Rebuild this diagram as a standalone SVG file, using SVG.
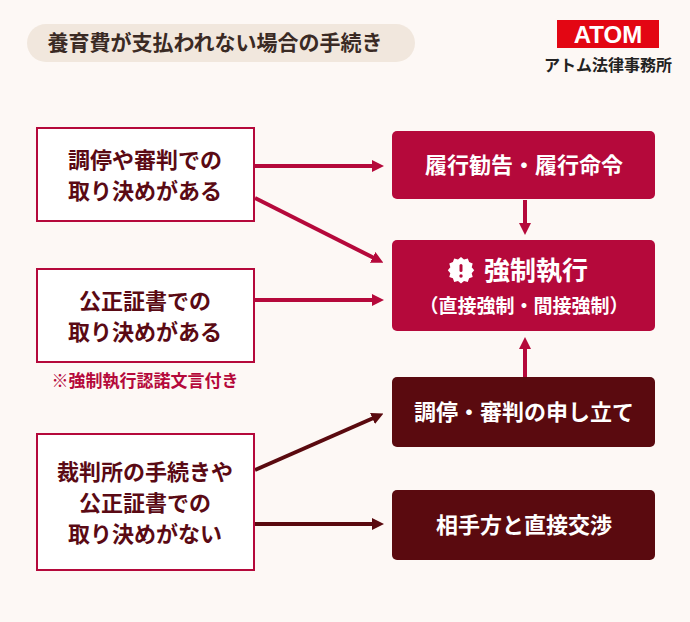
<svg xmlns="http://www.w3.org/2000/svg" width="690" height="622" viewBox="0 0 690 622">
<style>
text{font-family:"Noto Sans CJK JP","Noto Sans",sans-serif;font-weight:bold;text-anchor:middle}
.lb{fill:#fff;stroke:#b5093b;stroke-width:2}
.lt{fill:#5a0a14;font-size:22px}
.rt{fill:#fff;font-size:22px}
.ca{stroke:#b5093b;stroke-width:4;fill:none}
.da{stroke:#5a0a0f;stroke-width:4;fill:none}
</style>
<defs>
<marker id="ar" viewBox="0 0 10 10" refX="5" refY="5" markerWidth="3" markerHeight="3" orient="auto"><path d="M0,0L10,5L0,10z" fill="#b5093b"/></marker>
<marker id="ad" viewBox="0 0 10 10" refX="5" refY="5" markerWidth="3" markerHeight="3" orient="auto"><path d="M0,0L10,5L0,10z" fill="#5a0a0f"/></marker>
</defs>
<rect width="690" height="622" fill="#fdf8f5"/>
<g id="title"><rect x="27" y="24" width="388" height="38" rx="19" fill="#f1e7dd"/><text x="215" y="50" font-size="21" fill="#3a2a24">養育費が支払われない場合の手続き</text></g>
<g id="logo"><rect x="557" y="20" width="102" height="28" fill="#e30613"/><text x="608" y="43" font-size="24" fill="#fff" style="font-family:'Liberation Sans',sans-serif">ATOM</text><text x="608" y="71" font-size="16" fill="#222">アトム法律事務所</text></g>
<g id="connectors">
<line class="ca" x1="255" y1="166" x2="378" y2="166" marker-end="url(#ar)"/>
<line class="ca" x1="255" y1="198" x2="378" y2="260" marker-end="url(#ar)"/>
<line class="ca" x1="255" y1="300" x2="378" y2="300" marker-end="url(#ar)"/>
<line class="ca" x1="525" y1="200" x2="525" y2="229" marker-end="url(#ar)"/>
<line class="ca" x1="525" y1="377" x2="525" y2="343" marker-end="url(#ar)"/>
<line class="da" x1="255" y1="470" x2="378" y2="416" marker-end="url(#ad)"/>
<line class="da" x1="255" y1="524" x2="378" y2="524" marker-end="url(#ad)"/>
</g>
<g id="n1"><rect class="lb" x="37" y="128" width="217" height="93"/><text class="lt" x="145" y="168">調停や審判での</text><text class="lt" x="145" y="199">取り決めがある</text></g>
<g id="n2"><rect class="lb" x="37" y="269" width="217" height="93"/><text class="lt" x="145" y="309">公正証書での</text><text class="lt" x="145" y="340">取り決めがある</text></g>
<text x="145" y="387" font-size="17" fill="#b5093b">※強制執行認諾文言付き</text>
<g id="n3"><rect class="lb" x="37" y="434" width="217" height="136"/><text class="lt" x="145" y="480">裁判所の手続きや</text><text class="lt" x="145" y="511">公正証書での</text><text class="lt" x="145" y="542">取り決めがない</text></g>
<g id="r1"><rect x="392" y="131" width="263" height="68" rx="5" fill="#b5093b"/><text class="rt" x="524" y="173">履行勧告・履行命令</text></g>
<g id="r2"><rect x="392" y="240" width="263" height="91" rx="5" fill="#b5093b"/>
<path d="M461,257 l3,2.5 3.8,-1 1.3,3.6 3.6,1.3 -1,3.8 2.5,3 -2.5,3 1,3.8 -3.6,1.3 -1.3,3.6 -3.8,-1 -3,2.5 -3,-2.5 -3.8,1 -1.3,-3.6 -3.6,-1.3 1,-3.8 -2.5,-3 2.5,-3 -1,-3.8 3.6,-1.3 1.3,-3.6 3.8,1z" fill="#fff"/>
<rect x="459.5" y="264" width="3" height="8" rx="1.5" fill="#b5093b"/><circle cx="461" cy="276" r="1.7" fill="#b5093b"/>
<text class="rt" x="536" y="280" style="font-size:26px">強制執行</text><text class="rt" x="524" y="313" style="font-size:19px">（直接強制・間接強制）</text></g>
<g id="r3"><rect x="392" y="377" width="263" height="70" rx="5" fill="#5a0a0f"/><text class="rt" x="524" y="420">調停・審判の申し立て</text></g>
<g id="r4"><rect x="392" y="490" width="263" height="70" rx="5" fill="#5a0a0f"/><text class="rt" x="524" y="533">相手方と直接交渉</text></g>
</svg>
